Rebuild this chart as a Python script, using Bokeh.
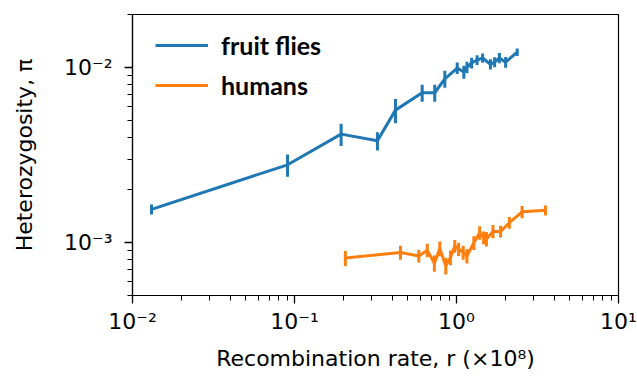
from bokeh.plotting import figure
from bokeh.models import Legend, LegendItem, FixedTicker
from bokeh.embed import file_html
from bokeh.resources import INLINE

# fruit flies
fly_r = [0.0131, 0.0906, 0.194, 0.325, 0.42, 0.614, 0.734, 0.847, 1.01, 1.11,
         1.16, 1.24, 1.34, 1.45, 1.62, 1.72, 1.84, 2.01, 2.37]
fly_pi = [0.00155, 0.00278, 0.00416, 0.00381, 0.0057, 0.00716, 0.00716, 0.0086,
          0.0099, 0.0094, 0.0100, 0.0106, 0.0110, 0.0113, 0.0104, 0.0107, 0.0113,
          0.0107, 0.0122]
fly_err = [0.00010, 0.00040, 0.00060, 0.00045, 0.00090, 0.00080, 0.00080, 0.00095,
           0.00075, 0.00080, 0.00075, 0.00075, 0.00070, 0.00070, 0.00070, 0.00070,
           0.00075, 0.00075, 0.00060]

# humans
hum_r = [0.206, 0.451, 0.585, 0.66, 0.73, 0.789, 0.859, 0.918, 0.976, 1.03,
         1.10, 1.16, 1.28, 1.39, 1.47, 1.53, 1.68, 1.87, 2.12, 2.54, 3.54]
hum_pi = [0.000817, 0.00088, 0.00084, 0.000906, 0.000764, 0.000927, 0.000738,
          0.000824, 0.000957, 0.00092, 0.00088, 0.00084, 0.00100, 0.00114,
          0.00107, 0.00105, 0.00116, 0.00116, 0.00130, 0.00150, 0.00153]
hum_err = [0.00008, 0.00008, 0.00007, 0.00008, 0.00008, 0.00009, 0.00008,
           0.00008, 0.00008, 0.00008, 0.00008, 0.00008, 0.00009, 0.00010,
           0.00009, 0.00010, 0.00010, 0.00009, 0.00010, 0.00012, 0.00010]

x_ticks = [0.01, 0.1, 1, 10]
x_tick_labels = ["10\u207b\u00b2", "10\u207b\u00b9", "10\u2070", "10\u00b9"]
y_ticks = [0.001, 0.01]
y_tick_labels = ["10\u207b\u00b3", "10\u207b\u00b2"]

BLUE = "#1f77b4"
ORANGE = "#ff7f0e"

x_minor = [m * d for d in x_ticks[:-1] for m in range(2, 10)]
y_minor = [m * 0.0001 for m in range(5, 10)] + [m * d for d in y_ticks for m in range(2, 10)]
y_minor = [v for v in y_minor if v <= 0.0201]

p = figure(width=637, height=392, x_axis_type="log", y_axis_type="log",
           x_range=(0.01, 10), y_range=(0.0005, 0.02),
           output_backend="svg", toolbar_location=None,
           min_border_left=132, min_border_right=19, min_border_top=14,
           min_border_bottom=97)
p.frame_width = 486
p.frame_height = 281

p.grid.visible = False
p.outline_line_color = "black"
p.outline_line_width = 1.2
p.background_fill_color = "white"
p.border_fill_color = "white"

lb = p.line(fly_r, fly_pi, line_color=BLUE, line_width=3)
p.segment(x0=fly_r, y0=[a - b for a, b in zip(fly_pi, fly_err)],
          x1=fly_r, y1=[a + b for a, b in zip(fly_pi, fly_err)],
          line_color=BLUE, line_width=3)
lo = p.line(hum_r, hum_pi, line_color=ORANGE, line_width=3)
p.segment(x0=hum_r, y0=[a - b for a, b in zip(hum_pi, hum_err)],
          x1=hum_r, y1=[a + b for a, b in zip(hum_pi, hum_err)],
          line_color=ORANGE, line_width=3)

p.xaxis[0].ticker = FixedTicker(ticks=x_ticks, minor_ticks=x_minor)
p.yaxis[0].ticker = FixedTicker(ticks=y_ticks, minor_ticks=y_minor)

for ax in (p.xaxis[0], p.yaxis[0]):
    ax.axis_line_color = "black"
    ax.axis_line_width = 1.2
    ax.major_tick_in = 0
    ax.major_tick_out = 8
    ax.minor_tick_in = 0
    ax.minor_tick_out = 5
    ax.major_tick_line_width = 1.3
    ax.minor_tick_line_width = 1
    ax.major_label_text_font = "DejaVu Sans"
    ax.major_label_text_font_size = "22px"
    ax.major_label_text_color = "black"
    ax.axis_label_text_font = "DejaVu Sans"
    ax.axis_label_text_font_size = "22px"
    ax.axis_label_text_font_style = "normal"
    ax.axis_label_text_color = "black"

p.xaxis[0].major_label_overrides = dict(zip(x_ticks, x_tick_labels))
p.yaxis[0].major_label_overrides = dict(zip(y_ticks, y_tick_labels))
p.xaxis[0].axis_label = "Recombination rate, r (\u00d710\u2078)"
p.yaxis[0].axis_label = "Heterozygosity, \u03c0"
p.xaxis[0].major_label_standoff = 5
p.xaxis[0].axis_label_standoff = 9
p.yaxis[0].major_label_standoff = 12
p.yaxis[0].axis_label_standoff = 24

legend = Legend(items=[LegendItem(label="fruit flies", renderers=[lb]),
                       LegendItem(label="humans", renderers=[lo])],
                location=(18, 190))
legend.margin = 0
legend.padding = 5
legend.border_line_alpha = 0
legend.background_fill_alpha = 0
legend.label_text_font = "Lato"
legend.label_text_font_style = "bold"
legend.label_text_font_size = "25px"
legend.label_text_color = "black"
legend.glyph_width = 53
legend.glyph_height = 20
legend.label_height = 20
legend.spacing = 10
legend.label_standoff = 13
p.add_layout(legend)

open("out.html", "w").write(file_html(p, INLINE))
